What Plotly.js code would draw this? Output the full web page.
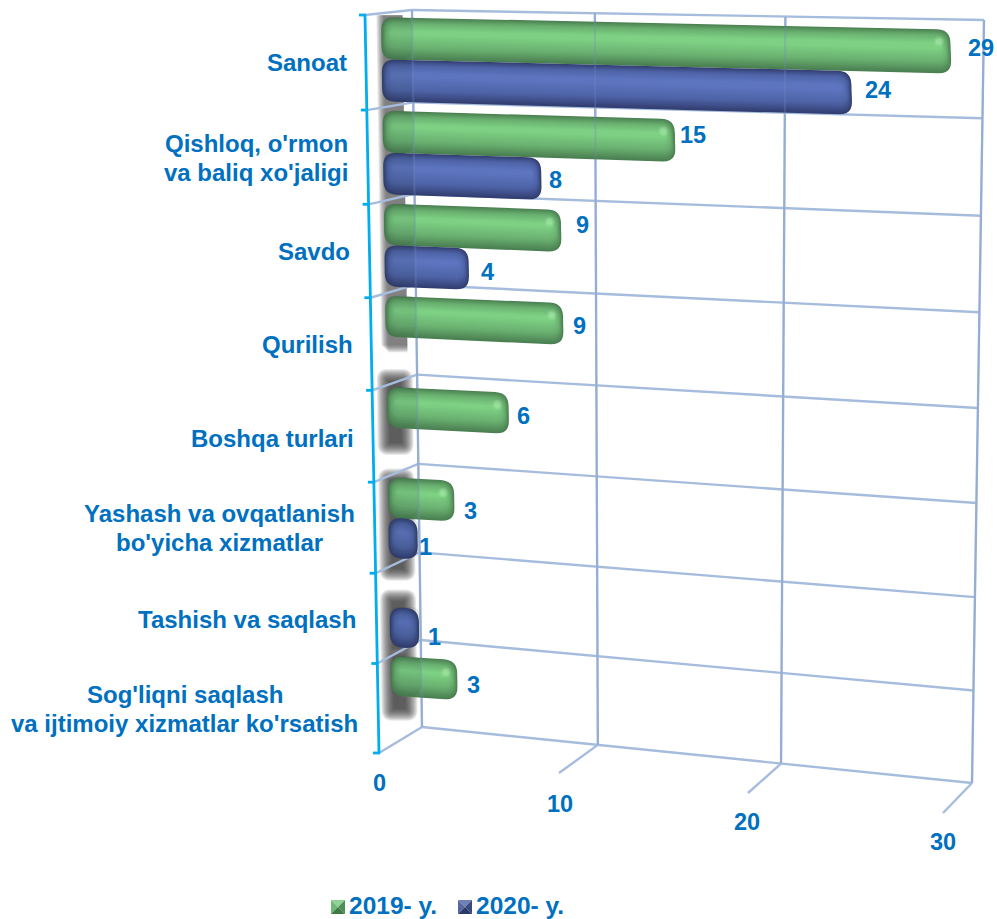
<!DOCTYPE html>
<html><head><meta charset="utf-8">
<script src="https://cdn.plot.ly/plotly-3.0.1.min.js"></script>
<style>html,body{margin:0;padding:0;background:#fff}#chart{width:997px;height:919px}</style>
</head><body><div id="chart"></div>
<script>
// ---- data ----
const categories = ["Sanoat","Qishloq, o'rmon<br>va baliq xo'jaligi","Savdo","Qurilish","Boshqa turlari","Yashash va ovqatlanish<br>bo'yicha xizmatlar","Tashish va saqlash","Sog'liqni saqlash<br>va ijtimoiy xizmatlar ko'rsatish"];
const values2019 = [29,15,9,9,6,3,null,3];
const values2020 = [24,8,4,null,null,1,1,null];
const series = ["2019- y.","2020- y."];
const valueTicks = [0,10,20,30];

// ---- placement and style (not data) ----
const FAMILY='"Liberation Sans", Arial, sans-serif', BLUE_TEXT='#0070c0';
const FONT = {family:FAMILY, size:24, color:BLUE_TEXT};
const NUM_FONT = {family:FAMILY, size:23.5, color:BLUE_TEXT};
const GRID = '#a6bcdd', AXIS = '#00aeef';
const categoryLabelPos = [[307,62],[256,157.5],[314,251],[307,344],[272,438],[219.5,528],[246.5,619],[184.5,708.5]];
const LINE_STEP = 29;
const tickLabelPos = [[379,783],[560,804],[747,822],[943,842]];
const nudge2019 = [[30,-4],[18,-6],[21,-6],[16,2],[15,3],[16,10],null,[16,5]];
const nudge2020 = [[26,-3],[14,1],[19,3],null,null,[8,8],[15,8],null];
const barPlane   = {k:0.04,p00:[385.4,12.5],p10:[970,25],p01:[396,740],p11:[1000,785]};
const wallPlane  = {k:0.06,p00:[412,10],p10:[984,20],p01:[422,727],p11:[972,783]};
const axisTop = [365,15], axisBottom = [379,753];
const floorEnds = [[379,753],[559,773],[748,793],[943,813]];
const solidShadow = [0.03,3.68];
const softShadows = [[3.95,4.7],[5.05,6.1],[6.4,7.0],[7.0,7.68]];
const swatches = [{x:331,y:900,s:14,c:['#8fd394','#6fb877','#4f8f57','#3f7a47']},{x:458,y:900,s:14,c:['#6d80b8','#55689f','#3a4a80','#2b3868']}];

function hex(c){return [1,3,5].map(i=>parseInt(c.substr(i,2),16));}
function mix(a,b,t){const A=hex(a),B=hex(b);return 'rgb('+A.map((v,i)=>Math.round(v+(B[i]-v)*t)).join(',')+')';}
function gradient(edge,mid,bright){
  const out=[],n=14;
  for(let i=0;i<n;i++){
    const f=i/(n-1);
    const col=f<0.45?mix(edge,mid,f/0.45):mix(mid,bright,(f-0.45)/0.55);
    out.push({t:13*Math.pow(f,1.1),b:24*f,s:9*f,r:13-6*f,c:col});
  }
  return out;
}
const greenLayers = gradient('#4b8052','#6ab070','#7dd084');
const blueLayers = gradient('#333f72','#4f64a8','#5d75bf');

// ---- perspective helpers ----
const warpC = c => {const u=c/8; return u*1.035/(1+0.035*u);};
const lerp = (a,b,t)=>a+(b-a)*t;
function project(pl,v,c){
  const w=v/30, a=w*(1-pl.k)/(1-pl.k*w), b=warpC(c);
  const L=[lerp(pl.p00[0],pl.p01[0],b),lerp(pl.p00[1],pl.p01[1],b)];
  const R=[lerp(pl.p10[0],pl.p11[0],b),lerp(pl.p10[1],pl.p11[1],b)];
  return [lerp(L[0],R[0],a),lerp(L[1],R[1],a)];
}
function roundedPoly(c,r){
  const pts=[],n=c.length;
  for(let i=0;i<n;i++){
    const p=c[i],a=c[(i+n-1)%n],b=c[(i+1)%n];
    const da=Math.hypot(a[0]-p[0],a[1]-p[1])||1,db=Math.hypot(b[0]-p[0],b[1]-p[1])||1;
    const ra=Math.min(r,da/2),rb=Math.min(r,db/2);
    const s=[p[0]+(a[0]-p[0])/da*ra,p[1]+(a[1]-p[1])/da*ra];
    const e=[p[0]+(b[0]-p[0])/db*rb,p[1]+(b[1]-p[1])/db*rb];
    for(let k=0;k<=6;k++){const t=k/6,u=1-t;
      pts.push([u*u*s[0]+2*u*t*p[0]+t*t*e[0],u*u*s[1]+2*u*t*p[1]+t*t*e[1]]);}
  }
  pts.push(pts[0]);
  return pts;
}
function polyTrace(polys,color){
  const x=[],y=[];
  polys.forEach(p=>{p.forEach(q=>{x.push(q[0]);y.push(q[1]);});x.push(null);y.push(null);});
  return {type:'scatter',mode:'lines',x,y,fill:'toself',fillcolor:color,line:{width:0,color:color,simplify:false},hoverinfo:'skip',showlegend:false};
}
function lineTrace(segs,color,width){
  const x=[],y=[];
  segs.forEach(s=>{s.forEach(q=>{x.push(q[0]);y.push(q[1]);});x.push(null);y.push(null);});
  return {type:'scatter',mode:'lines',x,y,line:{color,width,simplify:false},hoverinfo:'skip',showlegend:false};
}
const BAR_START=-0.234, GAP=0.05, BAR=0.45;
// the rounded bevel makes short bars reach a little further than their value
const bevel = v => v<10 ? 6*(1-v/10) : 0;
function barCorners(cat,slot,v){
  const c0=cat+GAP+slot*BAR,c1=c0+BAR;
  const e0=project(barPlane,v,c0),e1=project(barPlane,v,c1);
  return [project(barPlane,BAR_START,c0),[e0[0]+bevel(v),e0[1]],[e1[0]+bevel(v),e1[1]],project(barPlane,BAR_START,c1)];
}
function layerPoly(q,l){
  let lx0=q[0][0]+l.s,rx0=q[1][0]-l.s,rx1=q[2][0]-l.s,lx1=q[3][0]+l.s;
  if(rx0-lx0<4){const m=(rx0+lx0)/2;lx0=m-2;rx0=m+2;}
  if(rx1-lx1<4){const m=(rx1+lx1)/2;lx1=m-2;rx1=m+2;}
  return roundedPoly([[lx0,q[0][1]+l.t],[rx0,q[1][1]+l.t],[rx1,q[2][1]-l.b],[lx1,q[3][1]-l.b]],l.r);
}

const traces=[];
// soft shadows beside the bars, built up from many faint rounded plates
const shadowBox=([c0,c1],g)=>{
  const a=project(barPlane,0,c0),b=project(barPlane,0,c1);
  return roundedPoly([[a[0]-5-g,a[1]-g],[a[0]+13+g,a[1]-g],[b[0]+13+g,b[1]+g],[b[0]-5-g,b[1]+g]],g+2);
};
for(let g=9;g>=-3;g--) traces.push(polyTrace(softShadows.map(b=>shadowBox(b,g)),'rgba(50,50,50,0.105)'));
// shadow of the upper block with a soft left side and lower end
{
  const [c0,c1]=solidShadow;
  const a=project(barPlane,0,c0),b=project(barPlane,0,c1);
  for(let g=7;g>=0;g--) traces.push(polyTrace([[[a[0]-9+g,a[1]],[a[0]+17,a[1]],[b[0]+17,b[1]-8+g],[b[0]-9+g,b[1]-8+g]]],'rgba(70,70,70,0.13)'));
}
// wall grid
const wallSegs=[];
for(let c=0;c<=8;c++) wallSegs.push([project(wallPlane,0,c),project(wallPlane,30,c)]);
valueTicks.forEach(v=>wallSegs.push([project(wallPlane,v,0),project(wallPlane,v,8)]));
traces.push(lineTrace(wallSegs,GRID,2.4));
// side lines and floor ticks
const axisAt=c=>{const b=warpC(c);return [lerp(axisTop[0],axisBottom[0],b),lerp(axisTop[1],axisBottom[1],b)];};
const sideSegs=[];
for(let c=0;c<=8;c++) sideSegs.push([axisAt(c),project(wallPlane,0,c)]);
valueTicks.forEach((v,i)=>{ if(i>0) sideSegs.push([floorEnds[i],project(wallPlane,v,8)]); });
traces.push(lineTrace(sideSegs,GRID,2.4));
// cyan category axis
const axisSegs=[[axisTop,axisBottom]];
for(let c=0;c<=8;c++){const p=axisAt(c);axisSegs.push([[p[0]-6,p[1]],[p[0]+1,p[1]]]);}
traces.push(lineTrace(axisSegs,AXIS,2.8));

// bars: one trace per shading layer, per series
const seriesDefs=[{vals:values2019,slot:0,layers:greenLayers,nudge:nudge2019},{vals:values2020,slot:1,layers:blueLayers,nudge:nudge2020}];
seriesDefs.forEach(sd=>{
  const qs=[];
  sd.vals.forEach((v,i)=>{ if(v!==null) qs.push(barCorners(i,sd.slot,v)); });
  sd.layers.forEach(l=>traces.push(polyTrace(qs.map(q=>layerPoly(q,l)),l.c)));
});
// darker part of each bar in front of the wall
const overPolys=[];
seriesDefs.forEach(sd=>sd.vals.forEach((v,i)=>{
  if(v===null) return;
  const q=barCorners(i,sd.slot,v);
  const w=project(wallPlane,0,i+0.25)[0];
  overPolys.push(roundedPoly([q[0],[w,q[0][1]],[w,q[3][1]],q[3]],10));
}));
traces.push(polyTrace(overPolys,'rgba(30,50,50,0.10)'));
// end highlights on the green bars
const hx=[],hy=[];
values2019.forEach((v,i)=>{ if(v===null) return; const q=barCorners(i,0,v); hx.push(q[1][0]-11); hy.push(q[1][1]+12); });
[[10,0.25],[6,0.4]].forEach(([size,op])=>traces.push({type:'scatter',mode:'markers',x:hx,y:hy,marker:{size,color:'rgba(175,240,175,'+op+')',line:{width:0}},hoverinfo:'skip',showlegend:false}));
// grid seen through the bars
traces.push(lineTrace(valueTicks.map(v=>[project(wallPlane,v,0),project(wallPlane,v,8)]),'rgba(110,140,190,0.3)',2));
// legend swatches (square pyramids)
swatches.forEach(w=>{
  const {x,y,s}=w, cx=x+s/2, cy=y+s/2;
  [[[x,y],[x+s,y],[cx,cy]],[[x,y],[x,y+s],[cx,cy]],[[x+s,y],[x+s,y+s],[cx,cy]],[[x,y+s],[x+s,y+s],[cx,cy]]].forEach((tri,i)=>{
    traces.push(polyTrace([tri.concat([tri[0]])],w.c[i]));
  });
});
// legend entries (the pyramids above are their visible swatches)
series.forEach(name=>traces.push({type:'scatter',mode:'markers',name,x:[null],y:[null],marker:{symbol:'square',size:2,color:'rgba(0,0,0,0)'}}));

// annotations
const ann=[];
const note=(x,y,text,font)=>ann.push({x,y,xref:'x',yref:'y',text,showarrow:false,xanchor:'center',yanchor:'middle',align:'center',font});
categories.forEach((c,i)=>{
  const lines=c.split('<br>');
  lines.forEach((l,k)=>note(categoryLabelPos[i][0],categoryLabelPos[i][1]+(k-(lines.length-1)/2)*LINE_STEP,'<b>'+l+'</b>',FONT));
});
valueTicks.forEach((v,i)=>note(tickLabelPos[i][0],tickLabelPos[i][1],'<b>'+v+'</b>',NUM_FONT));
seriesDefs.forEach(sd=>sd.vals.forEach((v,i)=>{
  if(v===null) return;
  const q=barCorners(i,sd.slot,v);
  note((q[1][0]+q[2][0])/2+sd.nudge[i][0],(q[1][1]+q[2][1])/2+sd.nudge[i][1],'<b>'+v+'</b>',NUM_FONT);
}));

Plotly.newPlot('chart',traces,{
  width:997,height:919,margin:{l:0,r:0,t:0,b:0,autoexpand:false},
  paper_bgcolor:'#fff',plot_bgcolor:'#fff',
  xaxis:{range:[0,997],visible:false,fixedrange:true},yaxis:{range:[919,0],visible:false,fixedrange:true},
  annotations:ann,
  legend:{orientation:'h',x:0.31,y:0.0155,xanchor:'left',yanchor:'middle',font:{family:FAMILY,size:24.5,color:BLUE_TEXT,weight:'bold'},itemwidth:30,entrywidth:82,entrywidthmode:'pixels',bgcolor:'rgba(0,0,0,0)'},
  showlegend:true
},{displayModeBar:false,staticPlot:true});
</script></body></html>
